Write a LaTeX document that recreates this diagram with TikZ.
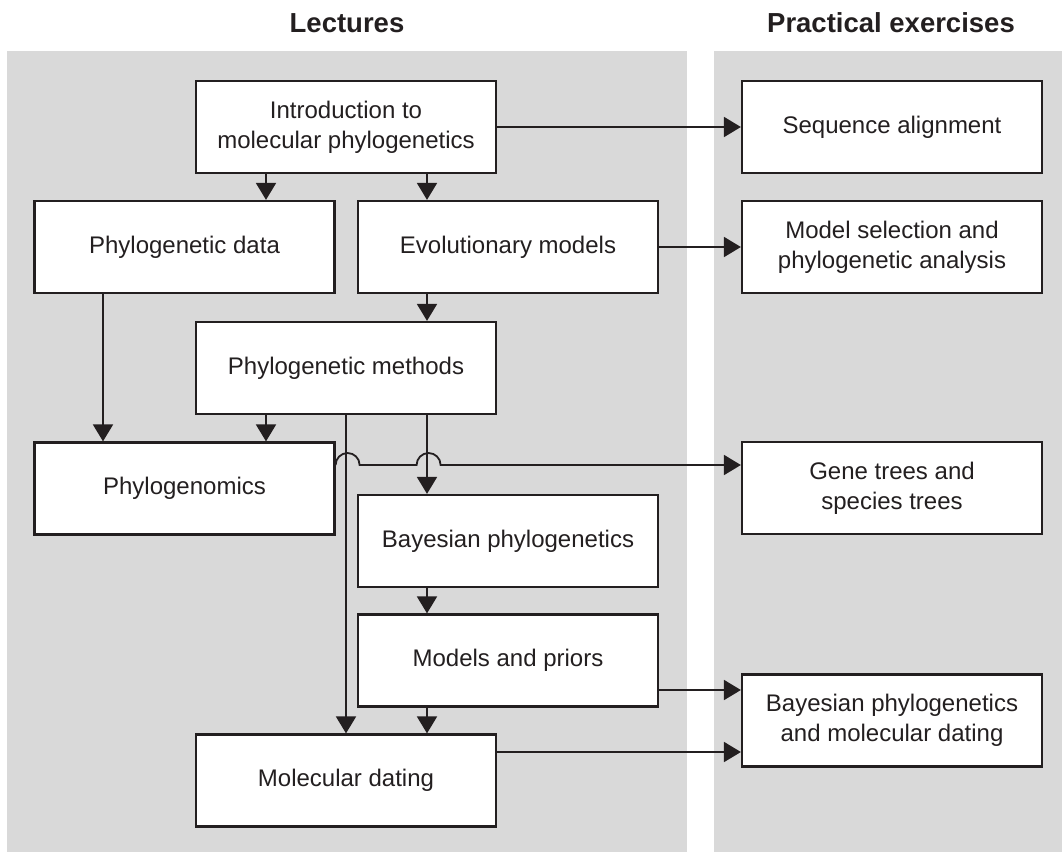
\documentclass[tikz,border=0pt]{standalone}
\usepackage{fontspec}
\setmainfont{Liberation Sans}
\usetikzlibrary{arrows.meta, positioning}
\definecolor{panelgray}{RGB}{217,217,217}
\definecolor{ink}{RGB}{35,31,32}

\begin{document}
\begin{tikzpicture}[x=1pt, y=-1pt,
    box/.style={draw=ink, fill=white, line width=2.2pt, minimum width=300pt,
        minimum height=92pt, inner sep=0pt, align=center, text=ink,
        font=\fontsize{24}{30}\selectfont},
    title/.style={font=\fontsize{27.5}{33}\selectfont\bfseries, text=ink, anchor=base},
    arr/.style={draw=ink, line width=1.8pt, -{Triangle[length=17pt, width=20pt]}}]
            \useasboundingbox (0, 0) rectangle (1062, 852);
            \fill[panelgray] (7, 51) rectangle (687, 852);
            \fill[panelgray] (714, 51) rectangle (1062, 852);
            \node[title] (lectures) at (347, 32) {Lectures};
            \node[title] (practical) at (891, 32) {Practical exercises};
            \node[box] (intro) at (346, 127) {Introduction to\\molecular phylogenetics};
            \node[box] (seqalign) at (892, 127) {Sequence alignment};
            \node[box] (phydata) at (184.5, 247) {Phylogenetic data};
            \node[box] (evomodels) at (508, 247) {Evolutionary models};
            \node[box] (modelsel) at (892, 247) {Model selection and\\phylogenetic analysis};
            \node[box] (phymethods) at (346, 368) {Phylogenetic methods};
            \node[box] (phygenomics) at (184.5, 488.5) {Phylogenomics};
            \node[box] (genetrees) at (892, 488) {Gene trees and\\species trees};
            \node[box] (bayes) at (508, 541) {Bayesian phylogenetics};
            \node[box] (priors) at (508, 660.5) {Models and priors};
            \node[box] (bayesdating) at (892, 720.5) {Bayesian phylogenetics\\and molecular dating};
            \node[box] (moldating) at (346, 780.5) {Molecular dating};
            \draw[arr] (intro) -- (seqalign);
            \draw[arr] (evomodels) -- (modelsel);
            \draw[arr] ([xshift=-80pt]intro.south) coordinate (s) -- (s |- phydata.north);
            \draw[arr] ([xshift=81pt]intro.south) coordinate (s) -- (s |- evomodels.north);
            \draw[arr] ([xshift=-81pt]evomodels.south) coordinate (s) -- (s |- phymethods.north);
            \draw[arr] ([xshift=-81.5pt]phydata.south) coordinate (s) -- (s |- phygenomics.north);
            \draw[arr] ([xshift=-80pt]phymethods.south) coordinate (s) -- (s |- phygenomics.north);
            \draw[arr] (phymethods.south) -- (moldating.north);
            \draw[arr] ([xshift=81pt]phymethods.south) coordinate (s) -- (s |- bayes.north);
            \draw[arr] ([xshift=-81pt]bayes.south) coordinate (s) -- (s |- priors.north);
            \draw[arr] ([xshift=-81pt]priors.south) coordinate (s) -- (s |- moldating.north);
            \coordinate (hop) at ([yshift=23.5pt]phygenomics.east);
            \draw[arr] (hop) arc[start angle=180, end angle=0, radius=12pt] -- ++(57pt, 0)
                arc[start angle=180, end angle=0, radius=12pt] -- (hop -| genetrees.west);
            \draw[arr] ([yshift=-29.5pt]priors.east) coordinate (s) -- (s -| bayesdating.west);
            \draw[arr] ([yshift=28.5pt]moldating.east) coordinate (s) -- (s -| bayesdating.west);
        \end{tikzpicture}
\end{document}
